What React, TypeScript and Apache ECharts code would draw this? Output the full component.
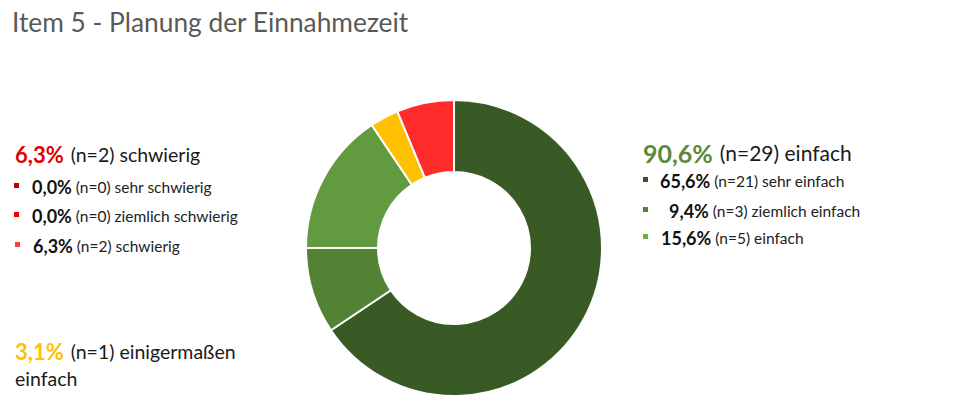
import React, { useEffect, useRef } from "react";
import * as echarts from "echarts";

const title = "Item 5 - Planung der Einnahmezeit";
const categories = [
  "sehr einfach",
  "ziemlich einfach",
  "einfach",
  "einigermaßen einfach",
  "schwierig",
  "ziemlich schwierig",
  "sehr schwierig",
];
const counts = [21, 3, 5, 1, 2, 0, 0];
const sliceColors = ["#3A5A25", "#548235", "#629A3F", "#FFC000", "#FF2B2B", "#E00000", "#C00000"];
const markerColors = ["#375623", "#548235", "#70AD47", "#FFC000", "#FF3B3B", "#F00000", "#C00000"];
const groupNames = ["einfach", "einigermaßen einfach", "schwierig"];
const groupIdx = [[0, 1, 2], [3], [4, 5, 6]];
const groupColors = ["#5B8A3A", "#FFC000", "#E00000"];

const FONT = "Lato";
const total = counts.reduce((a, b) => a + b, 0);
const pct = (n: number) => ((n / total) * 100).toFixed(1).replace(".", ",") + "%";
const sum = (idx: number[]) => idx.reduce((a, i) => a + counts[i], 0);

function buildGraphics() {
  const g: any[] = [];
  g.push({
    type: "text",
    left: 12,
    top: 9,
    style: { text: title, font: `26.3px "${FONT}"`, fill: "#595959" },
  });
  const head = (gi: number, x: number, y: number, bigSize: number, normSize: number, width?: number) => {
    const n = sum(groupIdx[gi]);
    g.push({
      type: "text",
      x,
      y,
      style: {
        text: `{big|${pct(n)}}{norm|(n=${n}) ${groupNames[gi]}}`,
        width,
        overflow: width ? "break" : undefined,
        lineHeight: 27,
        rich: {
          big: { fontFamily: FONT, fontSize: bigSize, fontWeight: "bold", fill: groupColors[gi], lineHeight: 27, padding: [0, 7, 0, 0] },
          norm: { fontFamily: FONT, fontSize: normSize, fill: "#1A1A1A", lineHeight: 27 },
        },
      },
    });
  };
  const item = (i: number, mx: number, tx: number, y: number) => {
    g.push({ type: "rect", shape: { x: mx, y: y - 4, width: 5, height: 5 }, style: { fill: markerColors[i] } });
    g.push({
      type: "text",
      x: tx,
      y,
      style: {
        text: `{b|${pct(counts[i])}}{s|(n=${counts[i]}) ${categories[i]}}`,
        verticalAlign: "middle",
        rich: {
          b: { fontFamily: FONT, fontSize: 18, fontWeight: "bold", fill: "#111", padding: [0, 4, 0, 0] },
          s: { fontFamily: FONT, fontSize: 15.5, fill: "#222" },
        },
      },
    });
  };
  // left: schwierig group
  head(2, 15, 141, 22, 19.5);
  item(6, 14, 32, 187);
  item(5, 14, 32, 216);
  item(4, 15, 33, 246);
  // right: einfach group
  head(0, 643, 139, 25, 21);
  item(0, 643, 660, 181);
  item(1, 643, 669, 211);
  item(2, 643, 661, 238);
  // bottom left
  head(1, 15, 338, 22, 19.5, 250);
  return g;
}

export default function App() {
  const ref = useRef<HTMLDivElement>(null);
  useEffect(() => {
    document.body.style.margin = "0";
    const chart = echarts.init(ref.current!, undefined, { renderer: "svg" });
    chart.setOption({
      animation: false,
      backgroundColor: "#fff",
      series: [
        {
          type: "pie",
          center: [454, 248],
          radius: [76, 148],
          startAngle: 90,
          clockwise: true,
          label: { show: false },
          labelLine: { show: false },
          emphasis: { disabled: true },
          itemStyle: { borderColor: "#fff", borderWidth: 2 },
          data: categories.map((c, i) => ({ name: c, value: counts[i], itemStyle: { color: sliceColors[i] } })),
        },
      ],
      graphic: buildGraphics(),
    });
    return () => chart.dispose();
  }, []);
  return <div ref={ref} style={{ position: "absolute", left: 0, top: 0, width: 954, height: 398 }} />;
}
